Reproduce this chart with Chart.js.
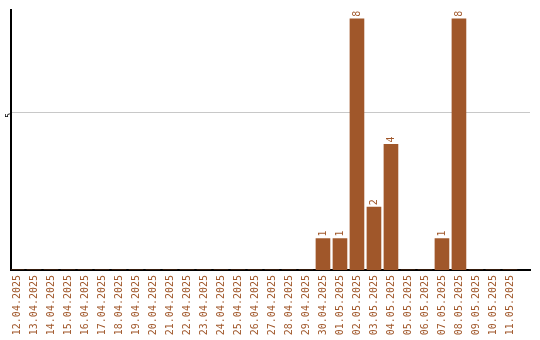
<!DOCTYPE html>
<html>
<head>
<meta charset="utf-8">
<script src="https://cdn.jsdelivr.net/npm/chart.js@4"></script>
<style>
  html, body { margin: 0; padding: 0; background: #fff; }
  #wrap { width: 540px; height: 340px; }
</style>
</head>
<body>
<div id="wrap"><canvas id="chart"></canvas></div>
<script>
const dates = [
  '12.04.2025', '13.04.2025', '14.04.2025', '15.04.2025', '16.04.2025', '17.04.2025',
  '18.04.2025', '19.04.2025', '20.04.2025', '21.04.2025', '22.04.2025', '23.04.2025',
  '24.04.2025', '25.04.2025', '26.04.2025', '27.04.2025', '28.04.2025', '29.04.2025',
  '30.04.2025', '01.05.2025', '02.05.2025', '03.05.2025', '04.05.2025', '05.05.2025',
  '06.05.2025', '07.05.2025', '08.05.2025', '09.05.2025', '10.05.2025', '11.05.2025'
];
const counts = [
  0, 0, 0, 0, 0, 0,
  0, 0, 0, 0, 0, 0,
  0, 0, 0, 0, 0, 0,
  1, 1, 8, 2, 4, 0,
  0, 1, 8, 0, 0, 0
];
const yTicks = [5];

const brown = '#a0572a';
const font = 'DejaVu Sans Mono';

// rotated value labels above the bars
const valueLabels = {
  id: 'valueLabels',
  afterDatasetsDraw(chart) {
    const ctx = chart.ctx;
    const meta = chart.getDatasetMeta(0);
    ctx.save();
    ctx.fillStyle = brown;
    ctx.font = '10px ' + font;
    ctx.textAlign = 'left';
    ctx.textBaseline = 'middle';
    meta.data.forEach((bar, i) => {
      const v = counts[i];
      if (!v) return;
      ctx.save();
      ctx.translate(bar.x, bar.y - 2);
      ctx.rotate(-Math.PI / 2);
      ctx.fillText(String(v), 0, 0);
      ctx.restore();
    });
    ctx.restore();
  }
};

new Chart(document.getElementById('chart'), {
  type: 'bar',
  data: {
    datasets: [{
      data: counts.map((v, i) => ({ x: i, y: v })),
      backgroundColor: brown,
      barThickness: 14
    }]
  },
  options: {
    responsive: true,
    maintainAspectRatio: false,
    animation: false,
    layout: { padding: { top: 10, right: 10, left: 0, bottom: 0 } },
    plugins: { legend: { display: false }, tooltip: { enabled: false } },
    scales: {
      x: {
        type: 'linear',
        min: -0.353,
        max: 30.18,
        offset: false,
        afterBuildTicks: (axis) => { axis.ticks = dates.map((d, i) => ({ value: i })); },
        afterFit: (axis) => { axis.height = 70; },
        grid: { display: false, drawTicks: false },
        border: { color: '#000', width: 2 },
        ticks: {
          color: brown,
          font: { family: font, size: 10 },
          minRotation: 90,
          maxRotation: 90,
          autoSkip: false,
          padding: 5,
          callback: (v) => dates[v]
        }
      },
      y: {
        min: 0,
        max: 8.28,
        afterBuildTicks: (axis) => { axis.ticks = yTicks.map(v => ({ value: v })); },
        afterFit: (axis) => { axis.width = 11; },
        grid: { color: '#c8c8c8', drawTicks: false },
        border: { color: '#000', width: 2 },
        ticks: {
          color: '#000',
          font: { family: font, size: 8 },
          minRotation: 90,
          maxRotation: 90,
          padding: 1
        }
      }
    }
  },
  plugins: [valueLabels]
});
</script>
</body>
</html>
